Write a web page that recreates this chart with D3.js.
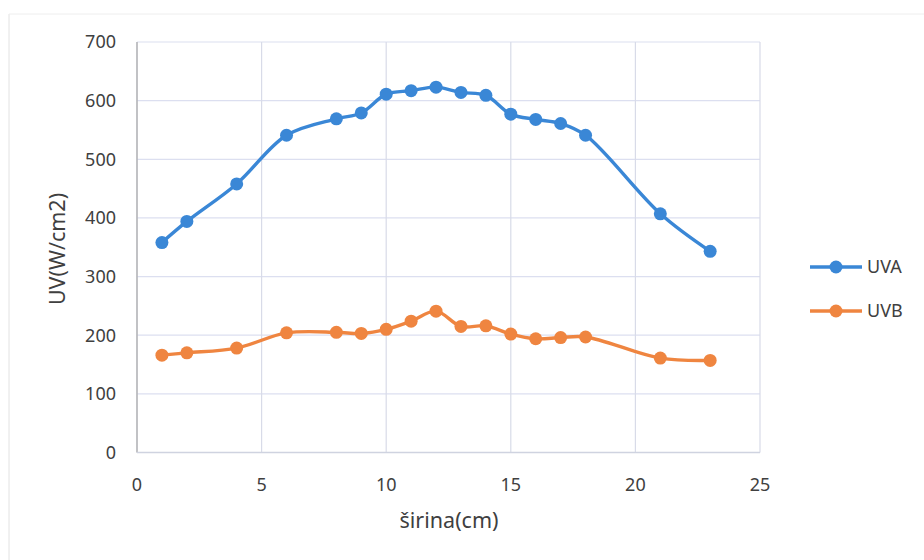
<!DOCTYPE html>
<html><head><meta charset="utf-8">
<script src="https://cdn.jsdelivr.net/npm/d3@7"></script>
<style>body{margin:0;background:#fff}svg{display:block}</style>
</head><body>
<script>
const xs = [1,2,4,6,8,9,10,11,12,13,14,15,16,17,18,21,23];
const uva = [358,394,458,541,569,579,611,617,623,614,609,577,568,561,541,407,343];
const uvb = [166,170,178,204,205,203,210,224,241,215,216,202,194,196,197,161,157];
const seriesNames = ["UVA","UVB"];
const xTicks = [0,5,10,15,20,25];
const yTicks = [0,100,200,300,400,500,600,700];
const colors = ["#3a87d6","#ef8540"];

const W=924,H=560;
const svg=d3.select("body").append("svg").attr("width",W).attr("height",H);
const font="'Noto Sans', 'Open Sans', sans-serif";
// faint page frame
svg.append("line").attr("x1",9).attr("x2",9).attr("y1",14).attr("y2",H).attr("stroke","#e2e2e2");
svg.append("line").attr("x1",9).attr("x2",W).attr("y1",14).attr("y2",14).attr("stroke","#eeeeee");

const x=d3.scaleLinear().domain([0,25]).range([137,760]);
const y=d3.scaleLinear().domain([0,700]).range([452.5,42]);

const g=svg.append("g");
// grid
g.selectAll(".hg").data(yTicks).join("line").attr("x1",x(0)).attr("x2",x(25))
 .attr("y1",d=>y(d)).attr("y2",d=>y(d)).attr("stroke","#dcdff0").attr("stroke-width",1.2);
g.selectAll(".vg").data(xTicks).join("line").attr("y1",y(0)).attr("y2",y(700))
 .attr("x1",d=>x(d)).attr("x2",d=>x(d)).attr("stroke","#d8dbe8").attr("stroke-width",1.2);
// axes lines
g.append("line").attr("x1",x(0)).attr("x2",x(0)).attr("y1",y(0)).attr("y2",y(700)).attr("stroke","#a8a8a8").attr("stroke-width",1.2);
g.append("line").attr("x1",x(0)).attr("x2",x(25)).attr("y1",y(0)).attr("y2",y(0)).attr("stroke","#cfd3e0").attr("stroke-width",1.5);

// tick labels
g.selectAll(".yl").data(yTicks).join("text").attr("x",116).attr("y",d=>y(d)).attr("dy","0.35em")
 .attr("text-anchor","end").attr("font-family",font).attr("font-size",18).attr("fill","#404040").text(d=>d);
g.selectAll(".xl").data(xTicks).join("text").attr("x",d=>x(d)).attr("y",485).attr("dy","0.35em")
 .attr("text-anchor","middle").attr("font-family",font).attr("font-size",18).attr("fill","#404040").text(d=>d);

// titles
svg.append("text").attr("transform","translate(57,249) rotate(-90)").attr("text-anchor","middle").attr("dy","0.35em")
 .attr("font-family",font).attr("font-size",21.5).attr("fill","#404040").text("UV(W/cm2)");
svg.append("text").attr("x",449).attr("y",520).attr("text-anchor","middle").attr("dy","0.35em")
 .attr("font-family",font).attr("font-size",21.5).attr("fill","#404040").text("širina(cm)");

const line=d3.line().x(d=>x(d[0])).y(d=>y(d[1])).curve(d3.curveCatmullRom.alpha(0.5));
[uva,uvb].forEach((vals,i)=>{
  const pts=xs.map((v,j)=>[v,vals[j]]);
  g.append("path").datum(pts).attr("d",line).attr("fill","none").attr("stroke",colors[i]).attr("stroke-width",3.4);
  g.selectAll(".m"+i).data(pts).join("circle").attr("cx",d=>x(d[0])).attr("cy",d=>y(d[1])).attr("r",6.5).attr("fill",colors[i]);
});

// legend
const ly=[267,311];
seriesNames.forEach((n,i)=>{
  svg.append("line").attr("x1",810).attr("x2",862).attr("y1",ly[i]).attr("y2",ly[i]).attr("stroke",colors[i]).attr("stroke-width",3.4);
  svg.append("circle").attr("cx",836).attr("cy",ly[i]).attr("r",6.5).attr("fill",colors[i]);
  svg.append("text").attr("x",867).attr("y",ly[i]).attr("dy","0.35em").attr("font-family",font).attr("font-size",18).attr("fill","#404040").text(n);
});
</script>
</body></html>
